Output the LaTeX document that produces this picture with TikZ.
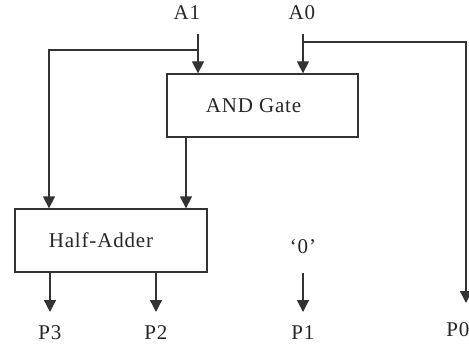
\documentclass[tikz,border=0pt]{standalone}
\usepackage{fontspec}
\setmainfont{Liberation Serif}[LetterSpace=4]
\usetikzlibrary{arrows.meta}
\begin{document}
\begin{tikzpicture}[x=1pt,y=-1pt,
  lbl/.style={inner sep=0pt,text=black!85,font=\fontsize{21}{24}\selectfont},
  box/.style={draw=black!80,line width=1.3pt,fill=white,inner sep=0pt,text=black!85,font=\fontsize{21}{24}\selectfont},
  wire/.style={draw=black!80,line width=1.3pt},
  arr/.style={wire,-{Triangle[width=12pt,length=12pt]}}]
\useasboundingbox (0,0) rectangle (469,345);
% inputs
\node[lbl] (A1) at (187,13) {A1};
\node[lbl] (A0) at (302,13) {A0};
\coordinate (a1top) at (198,34);
\coordinate (a0top) at (303,34);
\coordinate (j1) at (198,50);
\coordinate (j0) at (303,42);
% boxes
\node[box,minimum width=191pt,minimum height=63pt] (and) at (262.5,105.5) {\hspace*{-18pt}AND Gate};
\node[box,minimum width=192pt,minimum height=63pt] (ha) at (111,240.5) {\hspace*{-20pt}Half-Adder};
% outputs
\node[lbl] (P3) at (50,333) {P3};
\node[lbl] (P2) at (156,333) {P2};
\node[lbl] (P1) at (303,333) {P1};
\node[lbl] (P0) at (458,330) {P0};
\node[lbl] (zero) at (303,247) {‘0’};
\coordinate (t3) at (50,312);
\coordinate (t2) at (156,312);
\coordinate (t1) at (303,312);
\coordinate (t0) at (466,303);
\coordinate (s1) at (303,273);
% connectors
\draw[arr] (a1top) -- (and.north -| a1top);
\draw[arr] (a0top) -- (and.north -| a0top);
\draw[arr] (j1) -- (49,50) -- (ha.north -| 49,0);
\draw[arr] (j0) -| (t0);
\draw[arr] (and.south -| 186,0) -- (ha.north -| 186,0);
\draw[arr] (ha.south -| t3) -- (t3);
\draw[arr] (ha.south -| t2) -- (t2);
\draw[arr] (s1) -- (t1);
\end{tikzpicture}
\end{document}
